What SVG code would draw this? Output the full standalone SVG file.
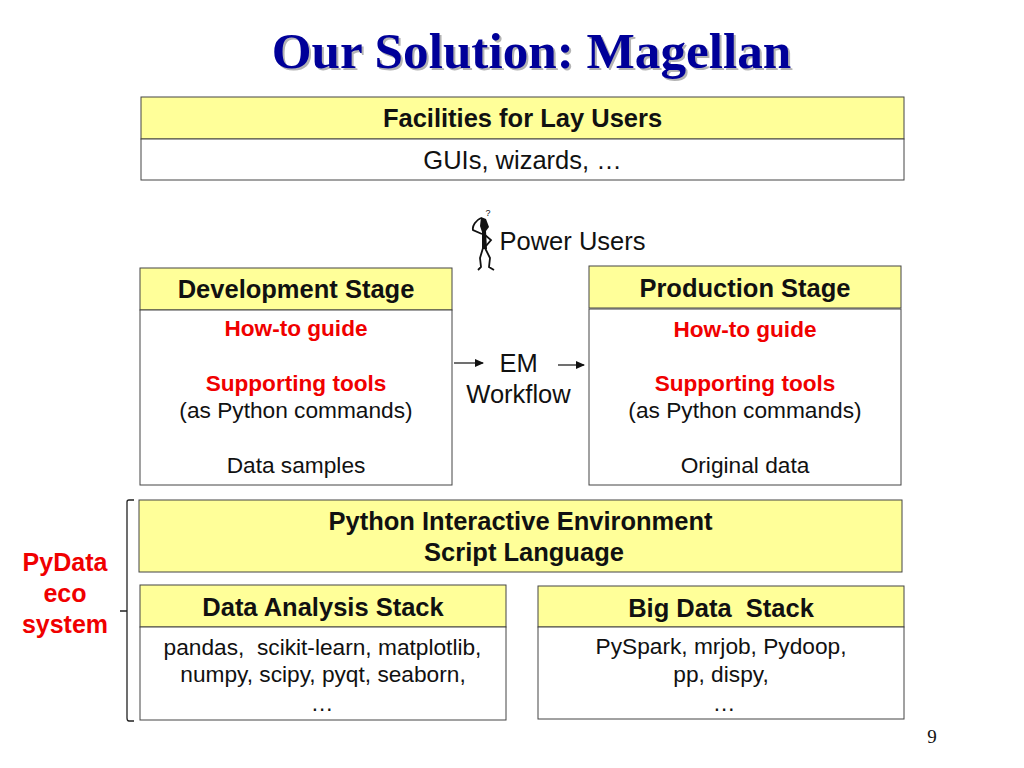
<svg xmlns="http://www.w3.org/2000/svg" width="1024" height="768" viewBox="0 0 1024 768">
<style>
text{font-family:"Liberation Sans",Arial,sans-serif;text-anchor:middle;fill:#111;white-space:pre}
.t{font-family:"Liberation Serif","Times New Roman",serif;font-weight:bold;font-size:51.2px}
.h{font-weight:bold;font-size:25.5px}
.p{font-weight:bold;font-size:25px;fill:#f00000}
.n{font-size:25.5px}
.c{font-size:22.7px}
.r{font-weight:bold;font-size:22.6px;fill:#f00000}
.y{fill:#ffff99;stroke:#444;stroke-width:1}
.w{fill:#fff;stroke:#444;stroke-width:1}
.l{fill:none;stroke:#222;stroke-width:1.3}
</style>
<defs><marker id="a" markerWidth="9" markerHeight="8" refX="8" refY="4" orient="auto" markerUnits="userSpaceOnUse"><path d="M0 0L9 4L0 8z" fill="#111"/></marker></defs>
<rect width="1024" height="768" fill="#fff"/>
<g id="title">
<text class="t" x="533.500" y="70" style="fill:#b4b4b4">Our Solution: Magellan</text>
<text class="t" x="531.500" y="68" style="fill:#000099">Our Solution: Magellan</text>
</g>
<g id="lay-users">
<rect class="y" x="141" y="97" width="763" height="42"/><rect class="w" x="141" y="139" width="763" height="41"/>
<text class="h" x="522.500" y="127">Facilities for Lay Users</text>
<text class="n" x="522.500" y="169">GUIs, wizards, …</text>
</g>
<g id="power-users">
<path d="M481 218C476 220 472 226 473 230L482 234M483 248L480 258L481 267L478 270M485 248L490 258L489 267L494 270M485 235L491 240L486 246" fill="none" stroke="#111" stroke-width="1.8"/>
<path d="M481 217L486 219L489 227L486 231L487 249L482 249L482 232L480 226z" fill="#111"/>
<text x="488" y="216" style="font-size:9px">?</text>
<text class="n" x="572.500" y="250">Power Users</text>
</g>
<g id="development">
<rect class="y" x="140" y="268" width="312" height="42"/><rect class="w" x="140" y="310" width="312" height="175"/>
<text class="h" x="296" y="298">Development Stage</text>
<text class="r" x="296" y="336">How-to guide</text>
<text class="r" x="296" y="391">Supporting tools</text>
<text class="c" x="296" y="418">(as Python commands)</text>
<text class="c" x="296" y="473">Data samples</text>
</g>
<g id="workflow"><text class="n" x="518.500" y="372">EM</text><text class="n" x="518.500" y="403">Workflow</text></g>
<g id="production">
<rect class="y" x="589" y="266" width="312" height="42"/><rect class="w" x="589" y="309" width="312" height="176"/>
<text class="h" x="745" y="297">Production Stage</text>
<text class="r" x="745" y="337">How-to guide</text>
<text class="r" x="745" y="391">Supporting tools</text>
<text class="c" x="745" y="418">(as Python commands)</text>
<text class="c" x="745" y="473">Original data</text>
</g>
<g id="python-env">
<rect class="y" x="139" y="500" width="763" height="72"/>
<text class="h" x="520.500" y="530">Python Interactive Environment</text>
<text class="h" x="524" y="561">Script Language</text>
</g>
<g id="pydata">
<text class="p" x="65" y="571">PyData</text><text class="p" x="65" y="602">eco</text><text class="p" x="65" y="633">system</text>
</g>
<g id="data-analysis">
<rect class="y" x="140" y="585" width="366" height="42"/><rect class="w" x="140" y="627" width="366" height="93"/>
<text class="h" x="323" y="616">Data Analysis Stack</text>
<text class="c" x="322.500" y="655">pandas,  scikit-learn, matplotlib,</text>
<text class="c" x="323" y="682">numpy, scipy, pyqt, seaborn,</text>
<text class="c" x="322" y="711">…</text>
</g>
<g id="big-data">
<rect class="y" x="538" y="586" width="366" height="41"/><rect class="w" x="538" y="627" width="366" height="92"/>
<text class="h" x="721" y="617">Big Data  Stack</text>
<text class="c" x="721" y="654">PySpark, mrjob, Pydoop,</text>
<text class="c" x="721" y="682">pp, dispy,</text>
<text class="c" x="724" y="711">…</text>
</g>
<g id="connectors">
<path class="l" d="M134 500H129Q127 500 127 502V718Q127 721 129 721H134M120 611H127"/>
<path class="l" d="M454 363H483" marker-end="url(#a)"/>
<path class="l" d="M558 365H584" marker-end="url(#a)"/>
</g>
<text id="page" x="932" y="743" style="font-family:'Liberation Serif',serif;font-size:19px">9</text>
</svg>
